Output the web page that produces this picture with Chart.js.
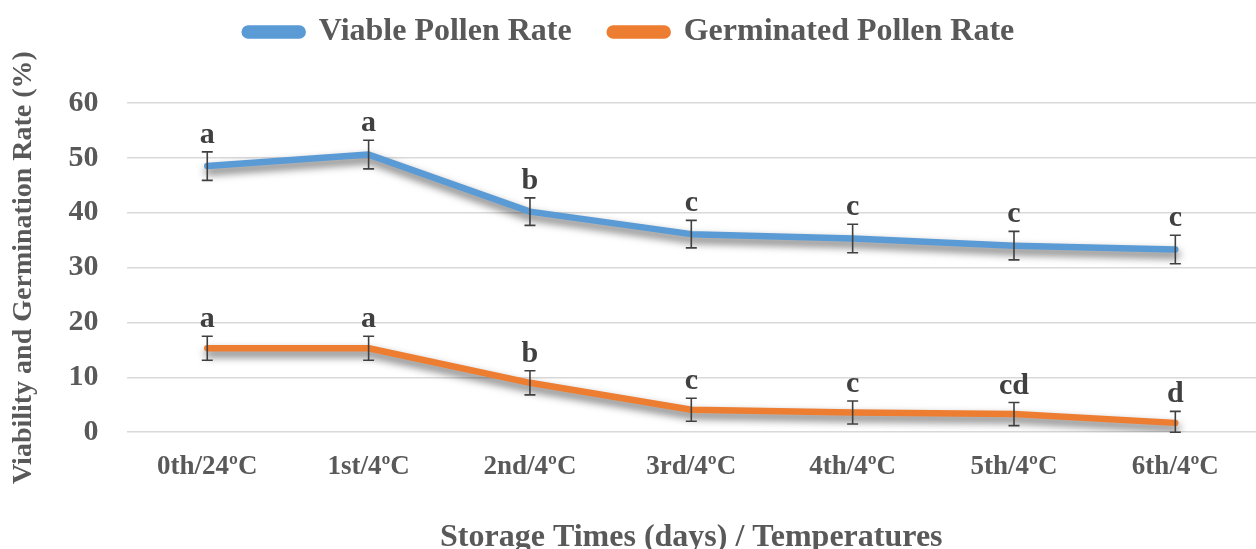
<!DOCTYPE html>
<html>
<head>
<meta charset="utf-8">
<script src="https://cdn.jsdelivr.net/npm/chart.js@4"></script>
<style>
  html, body { margin: 0; padding: 0; background: #fff; }
  #wrap { width: 1256px; height: 549px; }
</style>
</head>
<body>
<div id="wrap"><canvas id="chart"></canvas></div>
<script>
const categories = ['0th/24ºC', '1st/4ºC', '2nd/4ºC', '3rd/4ºC', '4th/4ºC', '5th/4ºC', '6th/4ºC'];
const viableRate = [48.5, 50.6, 40.2, 36.1, 35.3, 34.0, 33.3];
const viableErr = [2.6, 2.6, 2.5, 2.5, 2.6, 2.6, 2.6];
const viableLetters = ['a', 'a', 'b', 'c', 'c', 'c', 'c'];
const germRate = [15.3, 15.3, 9.0, 4.1, 3.6, 3.3, 1.7];
const germErr = [2.2, 2.2, 2.2, 2.1, 2.1, 2.1, 2.1];
const germLetters = ['a', 'a', 'b', 'c', 'c', 'cd', 'd'];
const yTicks = [0, 10, 20, 30, 40, 50, 60];

const serif = '"Liberation Serif", "Times New Roman", serif';

// gray soft shadow under each line, like the Office chart
const lineShadow = {
    id: 'lineShadow',
    beforeDatasetDraw(chart) {
        const ctx = chart.ctx;
        ctx.save();
        ctx.shadowColor = 'rgba(0,0,0,0.6)';
        ctx.shadowBlur = 8;
        ctx.shadowOffsetY = 5;
        ctx.shadowOffsetX = 1;
    },
    afterDatasetDraw(chart) {
        chart.ctx.restore();
    }
};

// extra room between legend and plot
const legendGap = {
    id: 'legendGap',
    beforeInit(chart) {
        const fit = chart.legend.fit;
        chart.legend.fit = function () {
            fit.bind(chart.legend)();
            this.height += 45;
        };
    }
};

// error bars plus significance letters
const errorBars = {
    id: 'errorBars',
    afterDatasetsDraw(chart) {
        const ctx = chart.ctx;
        const x = chart.scales.x, y = chart.scales.y;
        const sets = [[viableRate, viableErr, viableLetters], [germRate, germErr, germLetters]];
        ctx.save();
        ctx.strokeStyle = '#404040';
        ctx.lineWidth = 1.6;
        ctx.fillStyle = '#404040';
        ctx.font = 'bold 30px ' + serif;
        ctx.textAlign = 'center';
        ctx.textBaseline = 'alphabetic';
        sets.forEach(([vals, errs, letters]) => {
            vals.forEach((v, i) => {
                const px = x.getPixelForValue(i);
                const top = y.getPixelForValue(v + errs[i]);
                const bot = Math.min(y.getPixelForValue(v - errs[i]), y.bottom);
                ctx.beginPath();
                ctx.moveTo(px, top); ctx.lineTo(px, bot);
                ctx.moveTo(px - 5.5, top); ctx.lineTo(px + 5.5, top);
                ctx.moveTo(px - 5.5, bot); ctx.lineTo(px + 5.5, bot);
                ctx.stroke();
                ctx.fillText(letters[i], px, top - 9);
            });
        });
        ctx.restore();
    }
};

new Chart(document.getElementById('chart'), {
    type: 'line',
    data: {
        labels: categories,
        datasets: [
            { label: 'Viable Pollen Rate', data: viableRate, borderColor: '#5b9bd5', backgroundColor: '#5b9bd5',
              borderWidth: 6.5, pointRadius: 0, borderCapStyle: 'round', borderJoinStyle: 'round', tension: 0 },
            { label: 'Germinated Pollen Rate', data: germRate, borderColor: '#ed7d31', backgroundColor: '#ed7d31',
              borderWidth: 6.5, pointRadius: 0, borderCapStyle: 'round', borderJoinStyle: 'round', tension: 0 }
        ]
    },
    options: {
        responsive: true,
        maintainAspectRatio: false,
        animation: false,
        layout: { padding: { top: -22, right: 0, bottom: -9, left: 3 } },
        plugins: {
            tooltip: { enabled: false },
            legend: {
                position: 'top',
                labels: {
                    boxWidth: 58,
                    boxHeight: 7,
                    useBorderRadius: true,
                    borderRadius: 3.5,
                    padding: 38,
                    color: '#595959',
                    font: { family: serif, size: 32, weight: 'bold' }
                }
            }
        },
        scales: {
            x: {
                offset: true,
                grid: { display: false },
                border: { display: false },
                ticks: { color: '#595959', padding: 11, font: { family: serif, size: 27, weight: 'bold' } },
                title: {
                    display: true,
                    text: 'Storage Times (days) / Temperatures',
                    color: '#595959',
                    padding: { top: 24, bottom: 1 },
                    font: { family: serif, size: 32, weight: 'bold' }
                }
            },
            y: {
                min: 0,
                max: 60,
                afterBuildTicks(axis) { axis.ticks = yTicks.map(v => ({ value: v })); },
                grid: { color: '#d9d9d9', lineWidth: 1.6, drawTicks: false },
                border: { display: false },
                ticks: { color: '#595959', padding: 28, font: { family: serif, size: 30, weight: 'bold' } },
                title: {
                    display: true,
                    text: 'Viability and Germination Rate (%)',
                    color: '#595959',
                    padding: { top: 4, bottom: 0 },
                    font: { family: serif, size: 28, weight: 'bold' }
                }
            }
        }
    },
    plugins: [lineShadow, legendGap, errorBars]
});
</script>
</body>
</html>
